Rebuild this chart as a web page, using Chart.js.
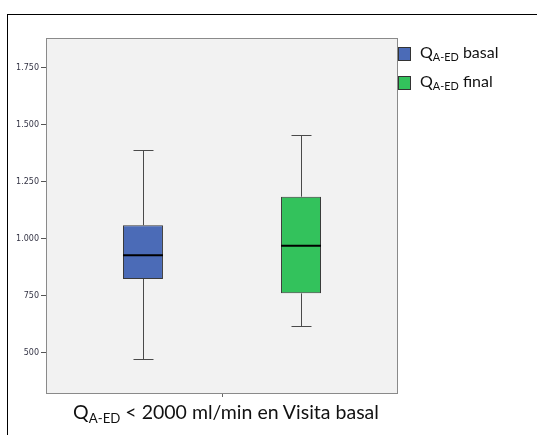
<!DOCTYPE html>
<html>
<head>
<meta charset="utf-8">
<script src="https://cdn.jsdelivr.net/npm/chart.js@4.4.1/dist/chart.umd.min.js"></script>
<style>
    body { margin: 0; background: #fff; font-family: Lato, "Open Sans", sans-serif; }
    #wrap { position: relative; width: 537px; height: 435px; overflow: hidden; }
    #frame { position: absolute; left: 7px; top: 14px; width: 560px; height: 460px; border: 1px solid #000; }
    #chart { position: absolute; left: 0; top: 0; }
    .leg { position: absolute; left: 398px; font-size: 16px; color: #111; line-height: 16px; }
    .leg span.sw { position: absolute; left: 0; top: 0; width: 11px; height: 12px; border: 1px solid #333; }
    .leg span.tx { position: absolute; left: 22px; top: -3px; white-space: nowrap; }
    sub { font-size: 0.68em; vertical-align: -0.3em; line-height: 0; }
    #xtitle { position: absolute; left: 0; width: 452px; text-align: center; top: 400px; font-size: 19.5px; color: #111; white-space: nowrap; }
</style>
</head>
<body>
<div id="wrap">
    <div id="frame"></div>
    <canvas id="chart" width="537" height="435"></canvas>
    <div class="leg" style="top:47px"><span class="sw" style="background:#4b6bb7"></span><span class="tx">Q<sub>A-ED</sub> basal</span></div>
    <div class="leg" style="top:76px"><span class="sw" style="background:#33c25c"></span><span class="tx">Q<sub>A-ED</sub> final</span></div>
    <div id="xtitle">Q<sub>A-ED</sub> &lt; 2000 ml/min en Visita basal</div>
</div>
<script>
// Data boxplot
const seriesNames = ['basal', 'final'];
const seriesColors = ['#4b6bb7', '#33c25c'];
const whiskerMin = [472, 618];
const q1 = [823, 760];
const median = [927, 969];
const q3 = [1059, 1184];
const whiskerMax = [1389, 1456];
const yTicks = [500, 750, 1000, 1250, 1500, 1750];

// Format angka gaya Spanyol: 1.750
function formatNumber(v) {
    return v.toString().replace(/\B(?=(\d{3})+(?!\d))/g, '.');
}

// Plugin: latar belakang abu-abu dan bingkai area plot
const plotBackground = {
    id: 'plotBackground',
    beforeDraw(chart) {
        const { ctx, chartArea: a } = chart;
        ctx.save();
        ctx.fillStyle = '#f2f2f2';
        ctx.fillRect(a.left, a.top, a.right - a.left, a.bottom - a.top);
        ctx.restore();
    },
    afterDraw(chart) {
        const { ctx, chartArea: a } = chart;
        ctx.save();
        ctx.strokeStyle = '#8a8a8a';
        ctx.lineWidth = 1;
        ctx.strokeRect(a.left + 0.5, a.top + 0.5, a.right - a.left - 1, a.bottom - a.top);
        ctx.restore();
    }
};

// Plugin: whisker dan median untuk setiap box
const whiskers = {
    id: 'whiskers',
    afterDatasetsDraw(chart) {
        const { ctx } = chart;
        const y = chart.scales.y;
        chart.data.datasets.forEach((ds, i) => {
            const bar = chart.getDatasetMeta(i).data[0];
            const x = Math.round(bar.x) + 0.5;
            const half = bar.width / 2;
            const cap = half / 2;
            const yMin = Math.round(y.getPixelForValue(whiskerMin[i])) + 0.5;
            const yMax = Math.round(y.getPixelForValue(whiskerMax[i])) + 0.5;
            const yQ1 = y.getPixelForValue(q1[i]);
            const yQ3 = y.getPixelForValue(q3[i]);
            const yMed = y.getPixelForValue(median[i]);
            ctx.save();
            ctx.strokeStyle = '#4a4a4a';
            ctx.lineWidth = 1;
            ctx.beginPath();
            ctx.moveTo(x, yQ3); ctx.lineTo(x, yMax);
            ctx.moveTo(x - cap, yMax); ctx.lineTo(x + cap, yMax);
            ctx.moveTo(x, yQ1); ctx.lineTo(x, yMin);
            ctx.moveTo(x - cap, yMin); ctx.lineTo(x + cap, yMin);
            ctx.stroke();
            ctx.strokeStyle = '#000';
            ctx.lineWidth = 2;
            ctx.beginPath();
            ctx.moveTo(bar.x - half, yMed); ctx.lineTo(bar.x + half, yMed);
            ctx.stroke();
            ctx.restore();
        });
    }
};

const ctx = document.getElementById('chart').getContext('2d');
const chart = new Chart(ctx, {
    type: 'bar',
    data: {
        labels: [''],
        datasets: seriesNames.map((name, i) => ({
            label: name,
            data: [[q1[i], q3[i]]],
            backgroundColor: seriesColors[i],
            borderColor: '#3a3a3a',
            borderWidth: 1,
            borderSkipped: false,
            barPercentage: 0.253,
            categoryPercentage: 0.898
        }))
    },
    options: {
        responsive: false,
        animation: false,
        layout: {
            padding: { left: 0, top: 38, right: 139, bottom: 42 }
        },
        scales: {
            x: {
                afterFit: s => { s.height = 0; },
                ticks: { display: false },
                grid: {
                    display: true,
                    offset: false,
                    drawOnChartArea: false,
                    tickLength: 4,
                    color: '#666'
                },
                border: { display: false }
            },
            y: {
                min: 323,
                max: 1880,
                afterFit: s => { s.width = 46; },
                afterBuildTicks: s => { s.ticks = yTicks.map(v => ({ value: v })); },
                ticks: {
                    callback: v => formatNumber(v),
                    font: { family: 'DejaVu Sans', size: 8 },
                    color: '#333344',
                    padding: 2
                },
                grid: {
                    drawOnChartArea: false,
                    tickLength: 5,
                    color: '#555'
                },
                border: { display: false }
            }
        },
        plugins: {
            legend: { display: false },
            tooltip: { enabled: false }
        }
    },
    plugins: [plotBackground, whiskers]
});
</script>
</body>
</html>
